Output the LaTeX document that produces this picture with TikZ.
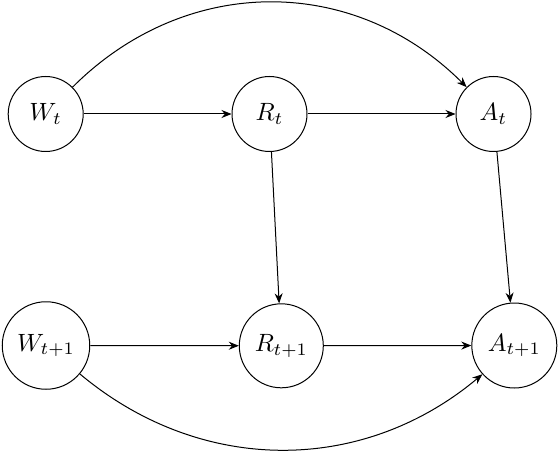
\documentclass[tikz,border=0pt]{standalone}
\usetikzlibrary{arrows.meta}
\begin{document}
\begin{tikzpicture}[x=0.4pt,y=0.4pt,
  var/.style={draw,circle,inner sep=0pt,line width=0.4pt},
  edge/.style={-{Stealth[length=4pt,width=3.2pt]},line width=0.4pt}]
\useasboundingbox (0,0) rectangle (558,-452);
\node[var,minimum size=30pt] (Wt) at (45.7,-114) {$W_t$};
\node[var,minimum size=30pt] (Rt) at (269.5,-114) {$R_t$};
\node[var,minimum size=30pt] (At) at (493.5,-114) {$A_t$};
\node[var,minimum size=35pt] (W1) at (46,-345.5) {$W_{t+1}$};
\node[var,minimum size=33.6pt] (R1) at (281.3,-345.8) {$R_{t+1}$};
\node[var,minimum size=34pt] (A1) at (514.3,-345.5) {$A_{t+1}$};
\draw[edge] (Wt) -- (Rt);
\draw[edge] (Rt) -- (At);
\draw[edge] (W1) -- (R1);
\draw[edge] (R1) -- (A1);
\draw[edge] (Rt) -- (R1);
\draw[edge] (At) -- (A1);
\draw[edge] (Wt.45) to[out=45,in=135,looseness=1.04] (At.135);
\draw[edge] (W1.-40) to[out=-40,in=-140] (A1.-138);
\end{tikzpicture}
\end{document}
